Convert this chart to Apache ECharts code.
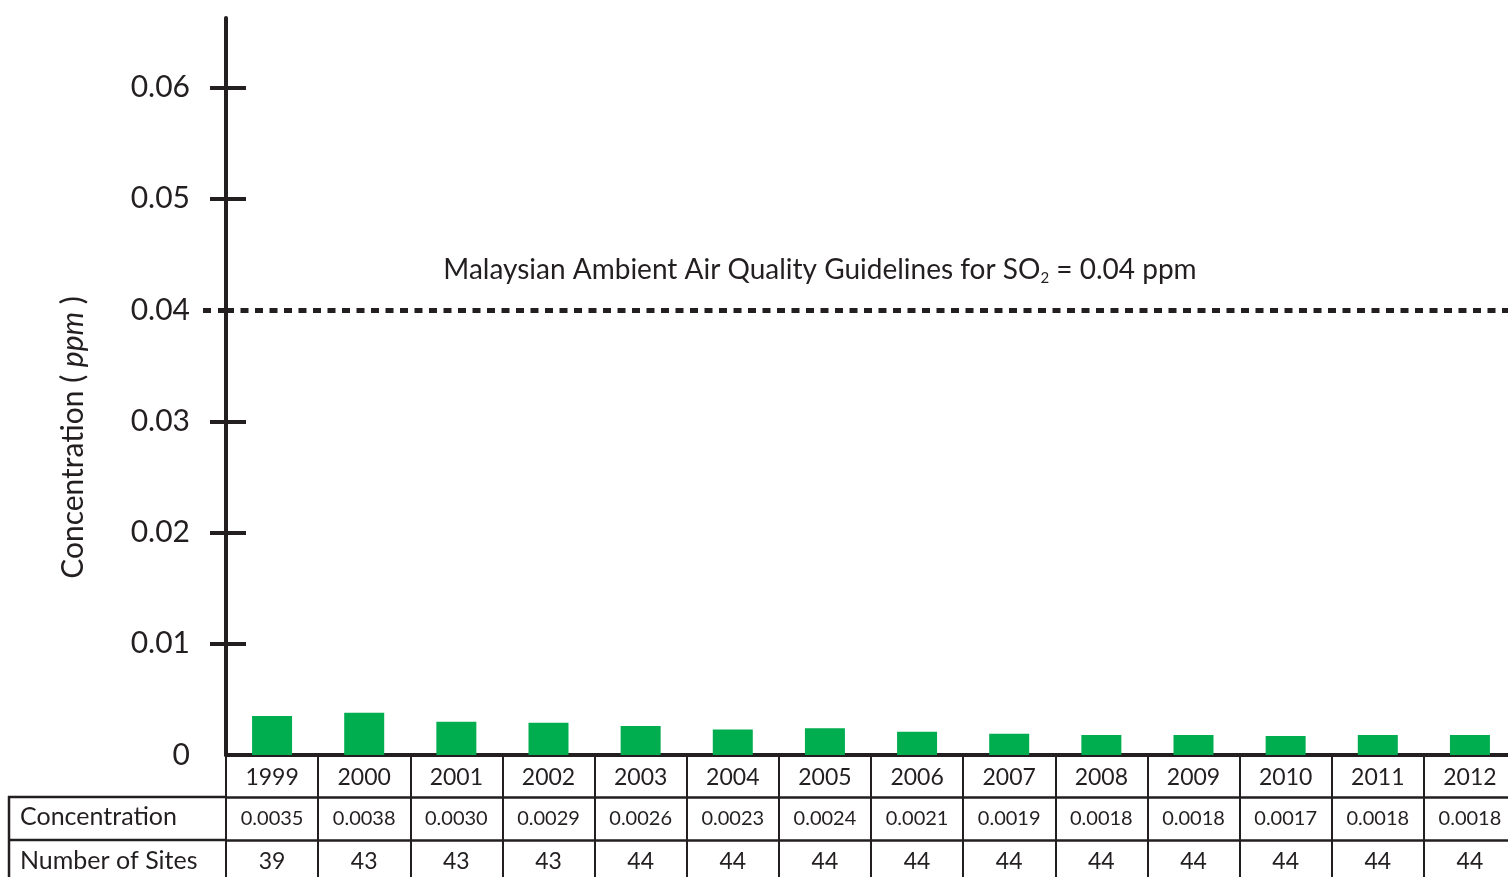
<!DOCTYPE html>
<html>
<head>
<meta charset="utf-8">
<script src="https://cdn.jsdelivr.net/npm/echarts@6/dist/echarts.min.js"></script>
<style>
  html, body { margin: 0; padding: 0; background: #fff; }
  #chart { width: 1508px; height: 877px; }
</style>
</head>
<body>
<div id="chart"></div>
<script>
const years = ['1999', '2000', '2001', '2002', '2003', '2004', '2005', '2006', '2007', '2008', '2009', '2010', '2011', '2012']
const concentration = [0.0035, 0.0038, 0.0030, 0.0029, 0.0026, 0.0023, 0.0024, 0.0021, 0.0019, 0.0018, 0.0018, 0.0017, 0.0018, 0.0018]
const sites = [39, 43, 43, 43, 44, 44, 44, 44, 44, 44, 44, 44, 44, 44]
const yLabels = [0, 0.01, 0.02, 0.03, 0.04, 0.05, 0.06]
const yTicks = [0.01, 0.02, 0.03, 0.05, 0.06]
const guideline = 0.04

const INK = '#231f20'
const FONT = 'Lato, "DejaVu Sans", sans-serif'
const yMax = 0.06625

const chart = echarts.init(document.getElementById('chart'))

const yBase = {
  type: 'value',
  position: 'left',
  min: 0,
  max: yMax,
  splitLine: { show: false },
  axisLabel: { show: false },
  axisLine: { show: false }
}

const option = {
  animation: false,
  grid: { left: 226, right: -8, top: 18, bottom: 122, containLabel: false, outerBoundsMode: 'none' },
  xAxis: [
    {
      type: 'category',
      position: 'bottom',
      data: years,
      axisLine: { onZero: false, lineStyle: { color: INK, width: 4 } },
      axisTick: { show: true, interval: 0, length: 42, lineStyle: { color: INK, width: 2 } },
      axisLabel: { interval: 0, margin: 11, fontSize: 23, color: INK, fontFamily: FONT }
    },
    {
      type: 'category',
      position: 'bottom',
      data: concentration.map(v => v.toFixed(4)),
      offset: 42,
      axisLine: { onZero: false, lineStyle: { color: INK, width: 2.5 } },
      axisTick: { show: true, interval: 0, length: 43, lineStyle: { color: INK, width: 2 } },
      axisLabel: { interval: 0, margin: 12, fontSize: 20, color: INK, fontFamily: FONT }
    },
    {
      type: 'category',
      position: 'bottom',
      data: sites.map(String),
      offset: 85,
      axisLine: { onZero: false, lineStyle: { color: INK, width: 2.5 } },
      axisTick: { show: true, interval: 0, length: 40, lineStyle: { color: INK, width: 2 } },
      axisLabel: { interval: 0, margin: 10, fontSize: 23, color: INK, fontFamily: FONT }
    }
  ],
  yAxis: [
    Object.assign({}, yBase, {
      axisLine: { show: true, lineStyle: { color: INK, width: 4 } },
      axisTick: { show: true, length: 16, customValues: yTicks, lineStyle: { color: INK, width: 4 } },
      axisLabel: {
        show: true,
        customValues: yLabels,
        formatter: v => (v === 0 ? '0' : v.toFixed(2)),
        fontSize: 30,
        color: INK,
        fontFamily: FONT,
        margin: 36,
        padding: [0, 0, 16, 0]
      },
      name: 'Concentration ( {i|ppm} )',
      nameLocation: 'middle',
      nameGap: 138,
      nameTextStyle: {
        fontSize: 30,
        color: INK,
        fontFamily: FONT,
        padding: [0, 102, 0, 0],
        rich: { i: { fontSize: 30, fontStyle: 'italic', color: INK, fontFamily: FONT } }
      }
    }),
    Object.assign({}, yBase, {
      axisTick: { show: true, inside: true, length: 20, customValues: yTicks, lineStyle: { color: INK, width: 4 } }
    }),
    Object.assign({}, yBase, {
      axisTick: { show: true, length: 26, customValues: [guideline], lineStyle: { color: INK, width: 5, type: [8, 7] } }
    })
  ],
  series: [
    {
      type: 'bar',
      data: concentration,
      barWidth: 40,
      itemStyle: { color: '#00ad4f' },
      markLine: {
        silent: true,
        symbol: 'none',
        data: [{ yAxis: guideline }],
        lineStyle: { color: INK, width: 5, type: [8, 6.5], cap: 'butt' },
        label: {
          position: 'insideMiddleTop',
          distance: 24,
          padding: [0, 102, 0, 0],
          formatter: 'Malaysian Ambient Air Quality Guidelines for SO{sub|2} = 0.04 ppm',
          fontSize: 28,
          color: INK,
          fontFamily: FONT,
          rich: {
            sub: { fontSize: 15, color: INK, fontFamily: FONT, verticalAlign: 'bottom', padding: [18, 0, 0, 0] }
          }
        }
      }
    }
  ],
  graphic: [
    { type: 'line', shape: { x1: 8, y1: 797, x2: 226, y2: 797 }, style: { stroke: INK, lineWidth: 2.5 } },
    { type: 'line', shape: { x1: 8, y1: 840, x2: 226, y2: 840 }, style: { stroke: INK, lineWidth: 2.5 } },
    { type: 'line', shape: { x1: 9, y1: 796, x2: 9, y2: 877 }, style: { stroke: INK, lineWidth: 2.5 } },
    { type: 'text', left: 20, top: 804, style: { text: 'Concentration', fontSize: 25, fill: INK, fontFamily: FONT } },
    { type: 'text', left: 20, top: 848, style: { text: 'Number of Sites', fontSize: 25, fill: INK, fontFamily: FONT } }
  ]
}

chart.setOption(option)
</script>
</body>
</html>
